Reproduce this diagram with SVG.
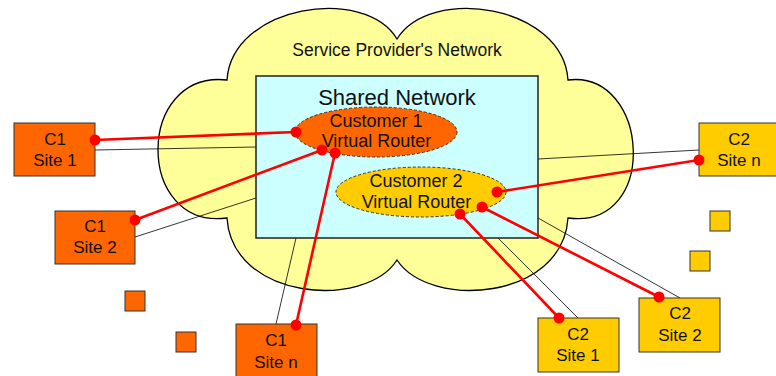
<svg xmlns="http://www.w3.org/2000/svg" width="776" height="376" viewBox="0 0 776 376">
<style>
  text { font-family: "Liberation Sans", Arial, sans-serif; fill: #111; text-anchor: middle; }
  .c1 { fill: #FF6600; stroke: #333; stroke-width: 1; }
  .c2 { fill: #FFCC00; stroke: #333; stroke-width: 1; }
  .lbl { font-size: 17px; }
  .vr { font-size: 18px; }
  .thin { stroke: #000; stroke-width: 0.8; fill: none; }
  .red { stroke: #FF0000; stroke-width: 2.6; fill: none; }
  .dot { fill: #FF0000; }
</style>
<rect width="776" height="376" fill="#fff"/>
<g id="cloud">
  <path d="M227,80 C232,5 365,-15 397,39 C430,-15 563,5 568,80 C650,70 660,230 568,218 C563,300 430,310 397,260 C365,310 232,300 227,218 C135,230 135,70 227,80 Z" fill="#FFFF99" stroke="#000" stroke-width="1.3"/>
  <text x="397" y="56" style="font-size:17.5px">Service Provider's Network</text>
</g>
<g id="connectors-thin">
  <line class="thin" x1="95" y1="150" x2="256" y2="147"/>
  <line class="thin" x1="135" y1="237" x2="256" y2="198"/>
  <line class="thin" x1="276" y1="324" x2="296" y2="238"/>
  <line class="thin" x1="699" y1="150" x2="538" y2="159"/>
  <line class="thin" x1="578" y1="318" x2="498" y2="238"/>
  <line class="thin" x1="680" y1="298" x2="538" y2="218"/>
</g>
<g id="shared-network">
  <rect x="256" y="76" width="282" height="162" fill="#CCFFFF" stroke="#222" stroke-width="1.5"/>
  <text x="397" y="105" style="font-size:22px">Shared Network</text>
</g>
<g id="vr1">
  <ellipse cx="376" cy="132" rx="81" ry="25" fill="#FF6600" stroke="#222" stroke-width="0.9" stroke-dasharray="3,2"/>
  <text class="vr" x="376" y="127">Customer 1</text>
  <text class="vr" x="376.5" y="147">Virtual Router</text>
</g>
<g id="vr2">
  <ellipse cx="421" cy="192" rx="85" ry="25" fill="#FFCC00" stroke="#222" stroke-width="0.9" stroke-dasharray="3,2"/>
  <text class="vr" x="416" y="187">Customer 2</text>
  <text class="vr" x="416.5" y="208">Virtual Router</text>
</g>
<g id="c1-site1">
  <rect class="c1" x="14" y="123" width="81" height="53"/>
  <text class="lbl" x="55" y="145">C1</text>
  <text class="lbl" x="55" y="166">Site 1</text>
</g>
<g id="c1-site2">
  <rect class="c1" x="55" y="211" width="80" height="53"/>
  <text class="lbl" x="95" y="232">C1</text>
  <text class="lbl" x="95" y="253">Site 2</text>
</g>
<g id="c1-siten">
  <rect class="c1" x="236" y="324" width="81" height="56"/>
  <text class="lbl" x="276" y="346">C1</text>
  <text class="lbl" x="276" y="368">Site n</text>
</g>
<g id="c1-more1"><rect class="c1" x="125" y="291" width="20" height="20"/></g>
<g id="c1-more2"><rect class="c1" x="176" y="332" width="20" height="20"/></g>
<g id="c2-siten">
  <rect class="c2" x="699" y="123" width="80" height="53"/>
  <text class="lbl" x="739" y="145">C2</text>
  <text class="lbl" x="739" y="166">Site n</text>
</g>
<g id="c2-site1">
  <rect class="c2" x="538" y="318" width="81" height="54"/>
  <text class="lbl" x="578" y="340">C2</text>
  <text class="lbl" x="578" y="361">Site 1</text>
</g>
<g id="c2-site2">
  <rect class="c2" x="639" y="298" width="81" height="54"/>
  <text class="lbl" x="680" y="319">C2</text>
  <text class="lbl" x="680" y="341">Site 2</text>
</g>
<g id="c2-more1"><rect class="c2" x="710" y="211" width="20" height="20"/></g>
<g id="c2-more2"><rect class="c2" x="690" y="251" width="20" height="20"/></g>
<g id="connectors-virtual">
  <line class="red" x1="95" y1="140" x2="296" y2="132"/>
  <line class="red" x1="135" y1="220" x2="322" y2="150"/>
  <line class="red" x1="296" y1="325" x2="335" y2="153"/>
  <line class="red" x1="699" y1="160" x2="497" y2="192"/>
  <line class="red" x1="559" y1="318" x2="460" y2="214"/>
  <line class="red" x1="659" y1="297" x2="482" y2="207"/>
  <circle class="dot" cx="95" cy="140" r="5.5"/>
  <circle class="dot" cx="296" cy="132" r="5.5"/>
  <circle class="dot" cx="135" cy="220" r="5.5"/>
  <circle class="dot" cx="322" cy="150" r="5.5"/>
  <circle class="dot" cx="296" cy="325" r="5.5"/>
  <circle class="dot" cx="335" cy="153" r="5.5"/>
  <circle class="dot" cx="699" cy="160" r="5.5"/>
  <circle class="dot" cx="497" cy="192" r="5.5"/>
  <circle class="dot" cx="559" cy="318" r="5.5"/>
  <circle class="dot" cx="460" cy="214" r="5.5"/>
  <circle class="dot" cx="659" cy="297" r="5.5"/>
  <circle class="dot" cx="482" cy="207" r="5.5"/>
</g>
</svg>
